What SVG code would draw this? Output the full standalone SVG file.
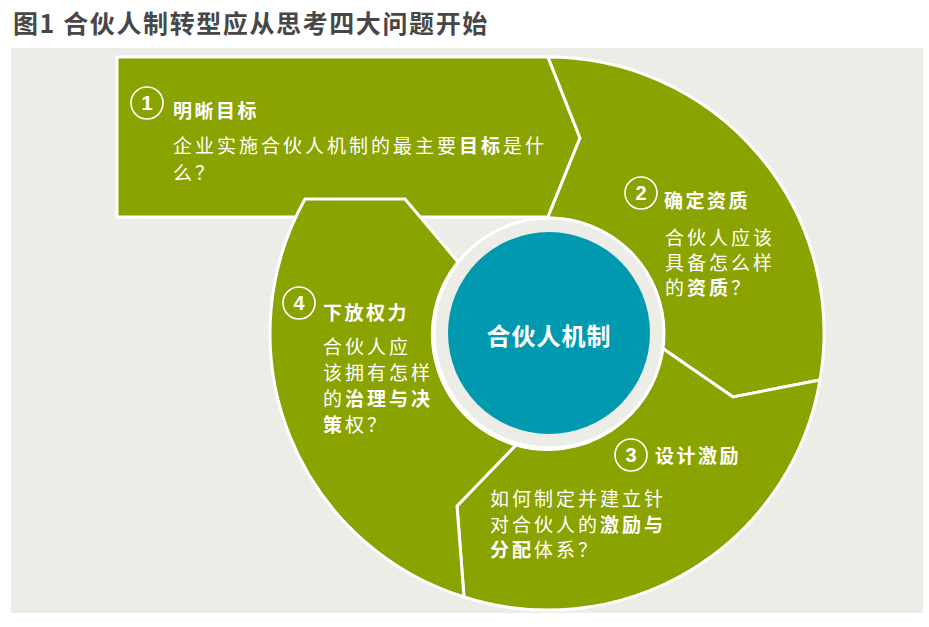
<svg xmlns="http://www.w3.org/2000/svg" width="929" height="627" viewBox="0 0 929 627">
<style>
.seg{fill:#8AA300;stroke:#FFFFFF;stroke-width:3;stroke-linejoin:miter}
.num{fill:none;stroke:#FFFFFF;stroke-width:1.6}
.numt{font-family:"Liberation Sans",Arial,sans-serif;font-weight:bold;font-size:20px;fill:#FFFFFF;text-anchor:middle}
.ttl{font-family:"Noto Sans CJK SC","Noto Sans",sans-serif;font-weight:bold;font-size:19px;letter-spacing:2.5px;fill:#FFFFFF}
.body{font-family:"Noto Sans CJK SC","Noto Sans",sans-serif;font-weight:normal;font-size:19px;letter-spacing:3px;fill:#FFFFFF}
.b{font-weight:bold}
</style>
<rect x="0" y="0" width="929" height="627" fill="#FFFFFF"/>
<text x="13" y="33" font-family="'Noto Sans CJK SC','Liberation Sans',sans-serif" font-weight="bold" font-size="25" letter-spacing="1.6" fill="#474747">图1 合伙人制转型应从思考四大问题开始</text>
<rect x="11" y="48" width="912" height="565" fill="#EDEDE7"/>

<g id="seg1">
<path class="seg" d="M117,57 L548,57 L580,138 L548,217 L117,217 Z"/>
<circle class="num" cx="147" cy="103" r="16"/>
<text class="numt" x="147" y="110">1</text>
<text class="ttl" x="173" y="118">明晰目标</text>
<text class="body" x="173" y="153">企业实施合伙人机制的最主要<tspan class="b">目标</tspan>是什</text>
<text class="body" x="173" y="180">么？</text>
</g>

<g id="seg2">
<path class="seg" d="M548,57 A276,276 0 0 1 820,380 L733,397 L662,348 A115,115 0 0 0 549,218 L548,217 L580,138 Z"/>
<circle class="num" cx="641" cy="193" r="16"/>
<text class="numt" x="641" y="200">2</text>
<text class="ttl" x="664" y="208">确定资质</text>
<text class="body" x="665" y="245">合伙人应该</text>
<text class="body" x="665" y="270">具备怎么样</text>
<text class="body" x="665" y="295">的<tspan class="b">资质</tspan>？</text>
</g>

<g id="seg3">
<path class="seg" d="M516,445 A115,115 0 0 0 662,348 L733,397 L820,380 A276,276 0 0 1 464,597 L457,506 Z"/>
<circle class="num" cx="631" cy="455" r="16"/>
<text class="numt" x="631" y="462">3</text>
<text class="ttl" x="655" y="463">设计激励</text>
<text class="body" x="490" y="506">如何制定并建立针</text>
<text class="body" x="490" y="532">对合伙人的<tspan class="b">激励与</tspan></text>
<text class="body" x="490" y="557"><tspan class="b">分配</tspan>体系？</text>
</g>

<g id="seg4">
<path class="seg" d="M305,199 L405,199 L458,262 A115,115 0 0 0 516,445 L457,506 L464,597 A276,276 0 0 1 305,199 Z"/>
<circle class="num" cx="299" cy="303" r="16"/>
<text class="numt" x="299" y="310">4</text>
<text class="ttl" x="323" y="320">下放权力</text>
<text class="body" x="323" y="354">合伙人应</text>
<text class="body" x="323" y="380">该拥有怎样</text>
<text class="body" x="323" y="406">的<tspan class="b">治理与决</tspan></text>
<text class="body" x="323" y="432"><tspan class="b">策</tspan>权？</text>
</g>

<g id="center">
<circle cx="549" cy="333" r="115" fill="#EDEDE7" stroke="#FFFFFF" stroke-width="3"/>
<circle cx="549" cy="333" r="101" fill="#0099B0"/>
<text x="549" y="345" text-anchor="middle" font-family="'Noto Sans CJK SC','Noto Sans',sans-serif" font-weight="bold" font-size="24" letter-spacing="1" fill="#FFFFFF">合伙人机制</text>
</g>

<g id="connectors"></g>
</svg>
